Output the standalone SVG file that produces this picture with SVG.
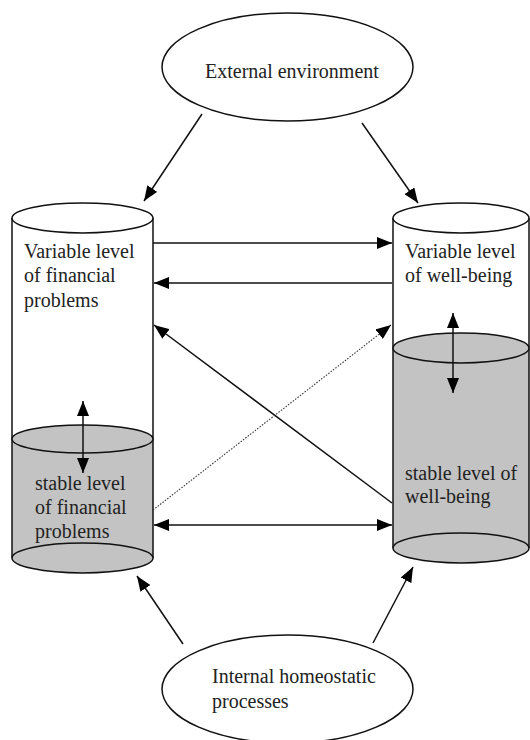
<svg xmlns="http://www.w3.org/2000/svg" width="530" height="740" viewBox="0 0 530 740">
<defs>
<marker id="ah" viewBox="0 0 15 12" refX="15" refY="6" markerWidth="15" markerHeight="12" markerUnits="userSpaceOnUse" orient="auto-start-reverse">
<path d="M0,0 L15,6 L0,12 Z" fill="#000"/>
</marker>
<style>
text{font-family:"Liberation Serif","Times New Roman",serif;font-size:20px;fill:#222}
.ln{stroke:#111;stroke-width:1.5;fill:none}
.el{stroke:#111;stroke-width:1.5;fill:#fff}
.gr{stroke:#111;stroke-width:1.5;fill:#c3c3c3}
.dot{stroke:#333;stroke-width:1.1;stroke-dasharray:1.5 1.5;fill:none}
</style>
</defs>
<rect width="530" height="740" fill="#fff"/>
<g id="external">
<ellipse class="el" cx="287.5" cy="67" rx="125.5" ry="54"/>
<text x="205" y="78">External environment</text>
</g>
<g id="left-cylinder">
<rect x="12" y="439" width="141" height="119" fill="#c3c3c3"/>
<line class="ln" x1="12" y1="218" x2="12" y2="558"/>
<line class="ln" x1="153" y1="218" x2="153" y2="558"/>
<ellipse class="gr" cx="82.5" cy="558" rx="70.5" ry="15"/>
<ellipse class="gr" cx="82.5" cy="439" rx="70.5" ry="14"/>
<ellipse class="el" cx="82.5" cy="218" rx="70.5" ry="15"/>
<text x="24" y="258">Variable level</text>
<text x="24" y="282">of financial</text>
<text x="24" y="307">problems</text>
<text x="35" y="490">stable level</text>
<text x="35" y="514">of financial</text>
<text x="35" y="538">problems</text>
</g>
<g id="right-cylinder">
<rect x="393" y="348" width="136" height="200" fill="#c3c3c3"/>
<line class="ln" x1="393" y1="218" x2="393" y2="548"/>
<line class="ln" x1="529" y1="218" x2="529" y2="548"/>
<ellipse class="gr" cx="461" cy="548" rx="68" ry="15"/>
<ellipse class="gr" cx="461" cy="348" rx="68" ry="15"/>
<ellipse class="el" cx="461" cy="218" rx="68" ry="15"/>
<text x="405" y="258">Variable level</text>
<text x="405" y="282">of well-being</text>
<text x="405" y="480">stable level of</text>
<text x="405" y="503">well-being</text>
</g>
<g id="internal">
<ellipse class="el" cx="287.5" cy="689" rx="125.5" ry="54"/>
<text x="212" y="683">Internal homeostatic</text>
<text x="212" y="708">processes</text>
</g>
<g id="connectors">
<line class="ln" x1="202" y1="114" x2="144" y2="201" marker-end="url(#ah)"/>
<line class="ln" x1="362" y1="123" x2="418" y2="203" marker-end="url(#ah)"/>
<line class="ln" x1="153" y1="243" x2="392" y2="243" marker-end="url(#ah)"/>
<line class="ln" x1="392" y1="283" x2="154" y2="283" marker-end="url(#ah)"/>
<line class="ln" x1="392" y1="503" x2="154" y2="325" marker-end="url(#ah)"/>
<line class="dot" x1="153" y1="510" x2="391" y2="325" marker-end="url(#ah)"/>
<line class="ln" x1="154" y1="525" x2="392" y2="525" marker-start="url(#ah)" marker-end="url(#ah)"/>
<line class="ln" x1="83" y1="401" x2="83" y2="473" marker-start="url(#ah)" marker-end="url(#ah)"/>
<line class="ln" x1="453" y1="313" x2="453" y2="393" marker-start="url(#ah)" marker-end="url(#ah)"/>
<line class="ln" x1="183" y1="644" x2="137" y2="576" marker-end="url(#ah)"/>
<line class="ln" x1="373" y1="643" x2="413" y2="567" marker-end="url(#ah)"/>
</g>
</svg>
